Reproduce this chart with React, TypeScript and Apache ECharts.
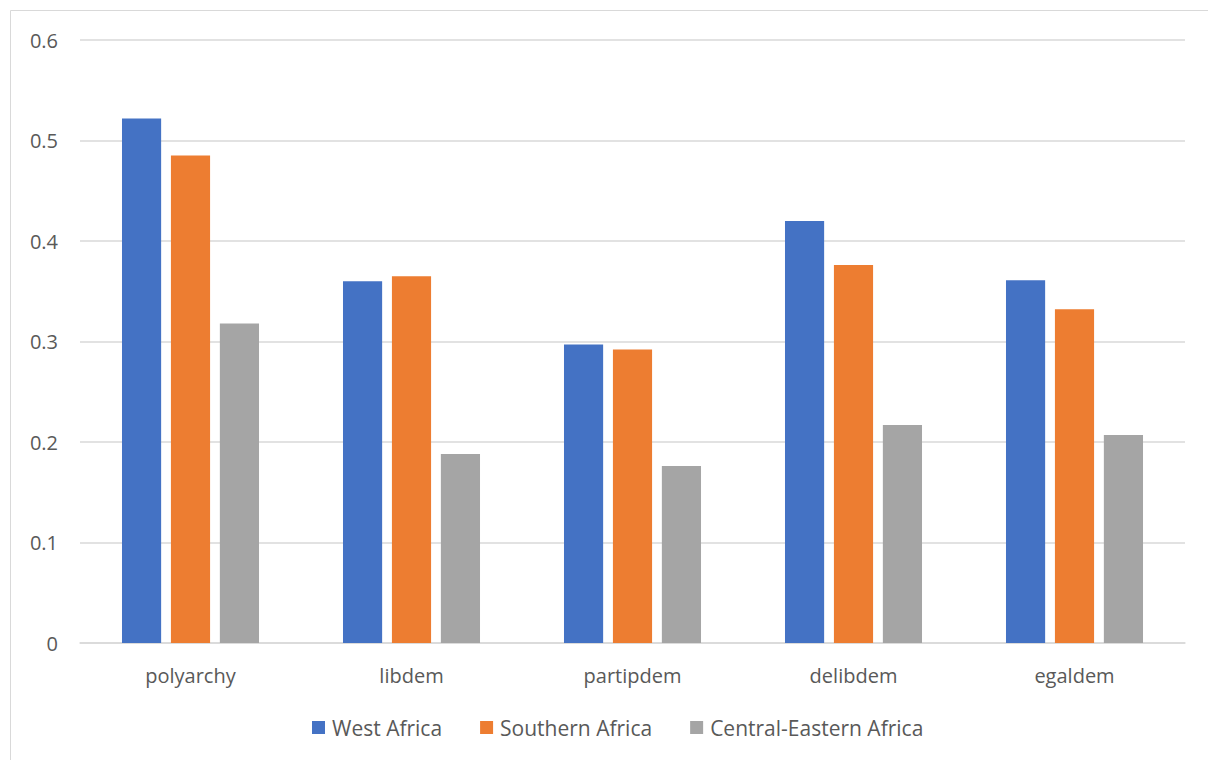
import React, { useEffect, useRef } from "react";
import * as echarts from "echarts";

const categories = ["polyarchy", "libdem", "partipdem", "delibdem", "egaldem"];
const westAfrica = [0.522, 0.36, 0.297, 0.42, 0.361];
const southernAfrica = [0.485, 0.365, 0.292, 0.376, 0.332];
const centralEasternAfrica = [0.318, 0.188, 0.176, 0.217, 0.207];
const seriesNames = ["West Africa", "Southern Africa", "Central-Eastern Africa"];
const colors = ["#4472C4", "#ED7D31", "#A5A5A5"];

export default function App() {
  const ref = useRef<HTMLDivElement>(null);
  useEffect(() => {
    document.body.style.margin = "0";
    const chart = echarts.init(ref.current!, null, { renderer: "svg" });
    const font = "'Open Sans', 'Noto Sans', sans-serif";
    const data = [westAfrica, southernAfrica, centralEasternAfrica];
    chart.setOption({
      animation: false,
      backgroundColor: "#fff",
      textStyle: { fontFamily: font },
      grid: { left: 80, right: 23, top: 40, bottom: 117 },
      graphic: [
        {
          type: "rect",
          shape: { x: 10.5, y: 10.5, width: 1220, height: 780 },
          style: { fill: "none", stroke: "#D9D9D9", lineWidth: 1 },
          silent: true,
        },
      ],
      legend: {
        top: 712,
        left: 307,
        itemWidth: 13,
        itemHeight: 13,
        itemGap: 38,
        icon: "rect",
        textStyle: { color: "#595959", fontSize: 21, fontFamily: font, padding: [0, 0, 0, 2] },
        data: seriesNames,
      },
      xAxis: {
        type: "category",
        data: categories,
        axisLine: { lineStyle: { color: "#D9D9D9", width: 1.5 } },
        axisTick: { show: false },
        axisLabel: { color: "#595959", fontSize: 20, margin: 22, fontFamily: font },
      },
      yAxis: {
        type: "value",
        min: 0,
        max: 0.6,
        interval: 0.1,
        axisLine: { show: false },
        axisTick: { show: false },
        splitLine: { lineStyle: { color: "#D9D9D9", width: 1.5 } },
        axisLabel: {
          color: "#595959",
          fontSize: 20,
          margin: 22,
          fontFamily: font,
          formatter: (v: number) => (v === 0 ? "0" : String(Math.round(v * 10) / 10)),
        },
      },
      series: seriesNames.map((name, i) => ({
        name,
        type: "bar",
        data: data[i],
        barGap: "25%",
        barCategoryGap: "38%",
        itemStyle: { color: colors[i] },
      })),
    });
    return () => chart.dispose();
  }, []);
  return <div ref={ref} style={{ width: 1208, height: 760 }} />;
}
